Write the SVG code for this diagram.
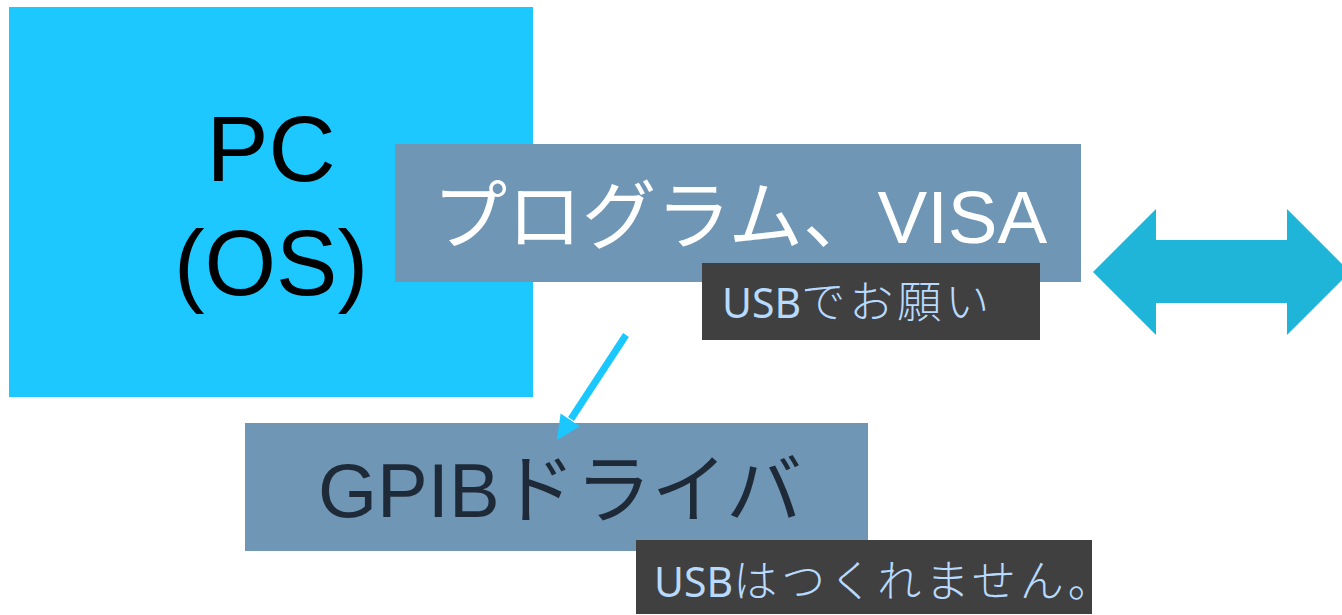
<svg xmlns="http://www.w3.org/2000/svg" width="1342" height="615" viewBox="0 0 1342 615">
<style>
.box{fill:#7096B5}
.note{fill:#404040}
.big{font-family:"Liberation Sans","Noto Sans CJK JP",sans-serif}
.small{font-family:"Noto Sans","Noto Sans CJK JP",sans-serif;fill:#B8DAFF}
.jp{font-family:"Noto Sans CJK JP",sans-serif;font-weight:300}
</style>
<rect width="1342" height="615" fill="#fff"/>
<g id="pc">
<rect x="9" y="7" width="524" height="390" fill="#1CC8FF"/>
<text class="big" x="271" y="181" text-anchor="middle" font-size="93" fill="#000">PC</text>
<text class="big" x="271" y="295" text-anchor="middle" font-size="92" fill="#000">(OS)</text>
</g>
<g id="program">
<rect class="box" x="395" y="144" width="686" height="138"/>
<text class="big" x="740" y="243" text-anchor="middle" font-size="74.5" fill="#fff">プログラム、VISA</text>
</g>
<g id="note1">
<rect class="note" x="702" y="263" width="338" height="77"/>
<text class="small" x="722" y="318" font-size="41">USB<tspan class="jp" font-size="44" letter-spacing="4">でお願い</tspan></text>
</g>
<g id="gpib">
<rect class="box" x="245" y="423" width="623" height="128"/>
<text class="big" x="560" y="517" text-anchor="middle" font-size="76" fill="#1E2A38">GPIBドライバ</text>
</g>
<g id="note2">
<rect class="note" x="636" y="540" width="456" height="74"/>
<text class="small" x="654" y="597" font-size="41">USB<tspan class="jp" font-size="44" letter-spacing="4">はつくれません。</tspan></text>
</g>
<g id="connectors">
<line x1="626" y1="335" x2="571" y2="419" stroke="#1AC8FF" stroke-width="7"/>
<polygon points="557,440 560.6,413.6 579.8,426.2" fill="#1AC8FF"/>
<polygon points="1093,272 1156,209 1156,240 1287,240 1287,209 1350,272 1287,335 1287,303 1156,303 1156,335" fill="#1EB5D8"/>
</g>
</svg>
